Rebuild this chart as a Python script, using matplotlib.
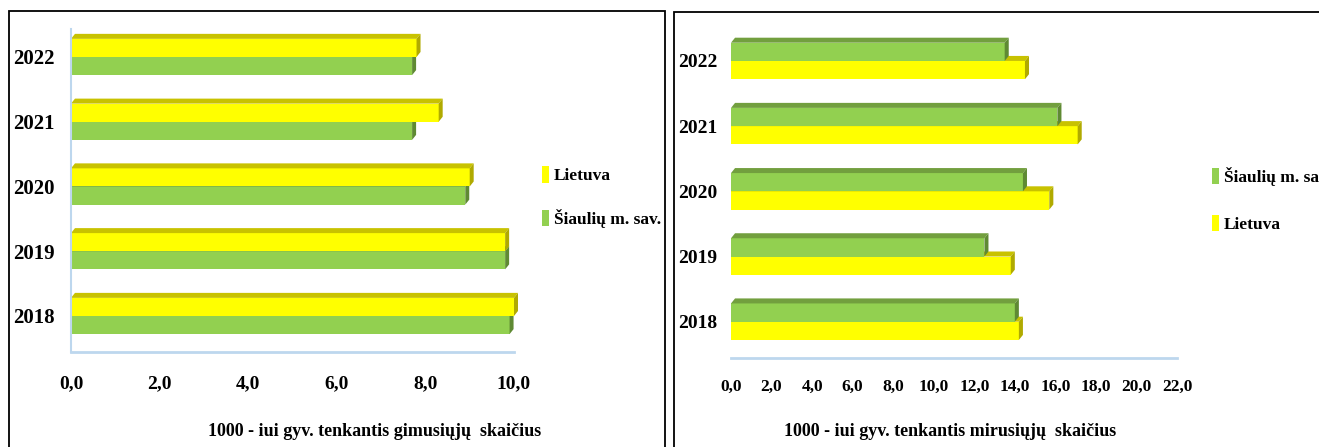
import numpy as np
import matplotlib
matplotlib.use('Agg')
import matplotlib.pyplot as plt
from matplotlib.patches import Rectangle

# ----------------------------------------------------------------------------------------------------------------------
#       Gimstamumas ir mirtingumas 1000-iui gyventojų: Šiaulių m. sav. ir Lietuva
# ----------------------------------------------------------------------------------------------------------------------

metai = ['2018', '2019', '2020', '2021', '2022']

# gimusiųjų skaičius 1000-iui gyv.
gim_lietuva = [10.0, 9.8, 9.0, 8.3, 7.8]
gim_siauliai = [9.9, 9.8, 8.9, 7.7, 7.7]

# mirusiųjų skaičius 1000-iui gyv.
mir_siauliai = [14.0, 12.5, 14.4, 16.1, 13.5]
mir_lietuva = [14.2, 13.8, 15.7, 17.1, 14.5]

gim_ticks = [0, 2, 4, 6, 8, 10]
mir_ticks = [0, 2, 4, 6, 8, 10, 12, 14, 16, 18, 20, 22]

# spalvos: priekis, viršus, šonas
GELTONA = ('#FFFF00', '#C8C200', '#B0AA00')
ZALIA = ('#92D050', '#729F3E', '#5F8A33')
ASIS = '#BDD7EE'

plt.rcParams['font.family'] = ['Liberation Serif', 'DejaVu Serif']
plt.rcParams['font.weight'] = 'bold'


# Vienas "3D" stulpelis: priekis, viršus ir šonas
def stulpelis_3d(ax, y, v, h, spalvos, dx, dy, label=None):
    ax.barh(y, v, height=h, color=spalvos[0], label=label, zorder=2)
    y0, y1 = y - h / 2, y + h / 2
    ax.fill([0, v, v + dx, dx], [y1, y1, y1 + dy, y1 + dy], color=spalvos[1], lw=0, zorder=2, clip_on=False)
    ax.fill([v, v + dx, v + dx, v], [y0, y0 + dy, y1 + dy, y1], color=spalvos[2], lw=0, zorder=2, clip_on=False)


# Sugrupuoti stulpeliai: pirmiausia apatinis, po to viršutinis
def tracer_panel(ax, apatinis, virsutinis, sp_apat, sp_virs, lab_apat, lab_virs, dx, dy, h=0.28):
    for i in range(len(metai)):
        stulpelis_3d(ax, i - h / 2, apatinis[i], h, sp_apat, dx, dy, lab_apat if i == 0 else None)
        stulpelis_3d(ax, i + h / 2, virsutinis[i], h, sp_virs, dx, dy, lab_virs if i == 0 else None)
    ax.set_yticks(range(len(metai)))
    ax.set_yticklabels(metai)
    for s in ['top', 'right']:
        ax.spines[s].set_visible(False)
    ax.spines['bottom'].set_color(ASIS)
    ax.spines['bottom'].set_linewidth(2)
    ax.spines['left'].set_color(ASIS)
    ax.spines['left'].set_linewidth(1.5)
    ax.tick_params(length=0)


fig = plt.figure(figsize=(13.19, 4.47), dpi=100)
W, H = 1319, 447

# ---- kairė: gimusieji
ax1 = fig.add_axes([71 / W, 1 - 352 / H, 443 / W, 323 / H])
tracer_panel(ax1, gim_siauliai, gim_lietuva, ZALIA, GELTONA, 'Šiaulių m. sav.', 'Lietuva', 0.09, 0.077)
ax1.set_xlim(0, 10)
ax1.set_ylim(-0.556, 4.432)
ax1.set_xticks(gim_ticks)
ax1.set_xticklabels([f'{t:.1f}'.replace('.', ',') for t in gim_ticks], fontsize=14)
ax1.tick_params(axis='x', pad=17)
ax1.tick_params(axis='y', pad=11.5, labelsize=15)
h1, l1 = ax1.get_legend_handles_labels()
ax1.legend(h1[::-1], l1[::-1], loc='center left', bbox_to_anchor=(542 / W, 1 - 197 / H),
           bbox_transform=fig.transFigure, frameon=False, fontsize=12.5, handlelength=0.4,
           handleheight=1.1, handletextpad=0.3, labelspacing=1.4, borderpad=0, borderaxespad=0)
fig.text(375 / W, 1 - 432 / H, '1000 - iui gyv. tenkantis gimusiųjų  skaičius', ha='center', va='center',
         fontsize=13)

# ---- dešinė: mirusieji
ax2 = fig.add_axes([731 / W, 1 - 358 / H, 446 / W, 328 / H])
tracer_panel(ax2, mir_lietuva, mir_siauliai, GELTONA, ZALIA, 'Lietuva', 'Šiaulių m. sav.', 0.2, 0.077)
ax2.spines['left'].set_visible(False)
ax2.set_xlim(0, 22)
ax2.set_ylim(-0.557, 4.475)
ax2.set_xticks(mir_ticks)
ax2.set_xticklabels([f'{t:.1f}'.replace('.', ',') for t in mir_ticks], fontsize=12.5)
ax2.tick_params(axis='x', pad=15)
ax2.tick_params(axis='y', pad=10, labelsize=14)
h2, l2 = ax2.get_legend_handles_labels()
ax2.legend(h2[::-1], l2[::-1], loc='center left', bbox_to_anchor=(1212 / W, 1 - 200 / H),
           bbox_transform=fig.transFigure, frameon=False, fontsize=12.5, handlelength=0.4,
           handleheight=1.1, handletextpad=0.3, labelspacing=1.65, borderpad=0, borderaxespad=0)
fig.text(950 / W, 1 - 432 / H, '1000 - iui gyv. tenkantis mirusiųjų  skaičius', ha='center', va='center',
         fontsize=13)

# rėmeliai aplink diagramas
fig.add_artist(Rectangle((9 / W, -0.1), 656 / W, 1 - 11 / H + 0.1, transform=fig.transFigure,
                         fill=False, lw=1.3, ec='black'))
fig.add_artist(Rectangle((674 / W, -0.1), 1.0, 1 - 12 / H + 0.1, transform=fig.transFigure,
                         fill=False, lw=1.3, ec='black'))

fig.savefig('out.png', dpi=100)
